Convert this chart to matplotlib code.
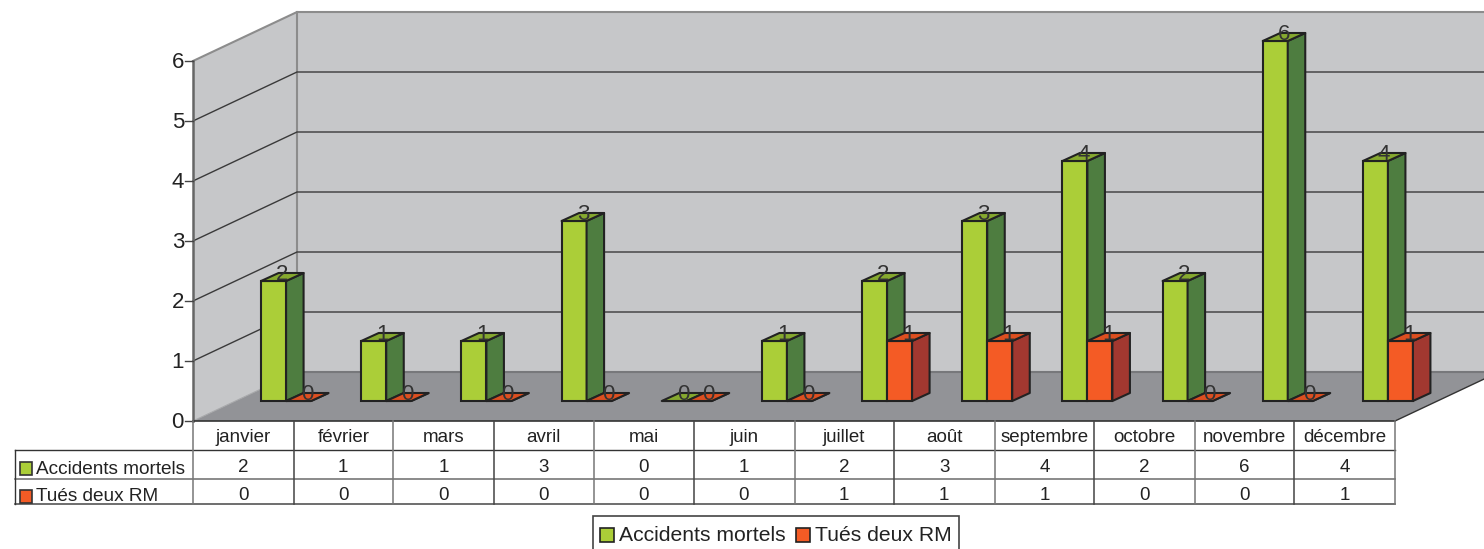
import matplotlib
matplotlib.use('Agg')
import matplotlib.pyplot as plt
from matplotlib.patches import Polygon, Rectangle

plt.rcParams['font.family'] = ['Liberation Sans', 'DejaVu Sans']

months = ['janvier', 'février', 'mars', 'avril', 'mai', 'juin', 'juillet', 'août',
          'septembre', 'octobre', 'novembre', 'décembre']
accidents = [2, 1, 1, 3, 0, 1, 2, 3, 4, 2, 6, 4]
tues = [0, 0, 0, 0, 0, 0, 1, 1, 1, 0, 0, 1]
y_ticks = [0, 1, 2, 3, 4, 5, 6]
series_names = ['Accidents mortels', 'Tués deux RM']
col_edges = [193, 294, 393, 494, 594, 694, 795, 894, 995, 1094, 1195, 1294, 1395]

# everything is in picture pixels, y going down
left, right, base = 193, 1395, 421
unit = 60
dx, dy = 104, -49  # depth of the floor
bar_w = 25
bar_dx, bar_dy = 17.5, -8  # depth of a bar
off_x, off_y = 43, -20  # bars sit in the middle of the floor

green = ('#abce38', '#86a92f', '#4e7d40')
orange = ('#f45b25', '#dd4f20', '#a23830')
edge = '#222222'
text_col = '#222222'

fig = plt.figure(figsize=(14.84, 5.49), dpi=100)
ax = fig.add_axes([0, 0, 1, 1])
ax.set_xlim(0, 1484)
ax.set_ylim(549, 0)
ax.axis('off')


def val_y(v):
    return base - unit * v


def poly(pts, color, ec='none', lw=0, z=1):
    ax.add_patch(Polygon(pts, closed=True, fc=color, ec=ec, lw=lw, zorder=z, joinstyle='round'))


def draw_bar(x, v, cols, z):
    y0 = base + off_y
    y1 = y0 - unit * v
    ax.add_patch(Rectangle((x, y1), bar_w, y0 - y1, fc=cols[0], ec=edge, lw=1.5, zorder=z))
    poly([(x + bar_w, y0), (x + bar_w + bar_dx, y0 + bar_dy), (x + bar_w + bar_dx, y1 + bar_dy), (x + bar_w, y1)],
         cols[2], edge, 1.5, z)
    poly([(x, y1), (x + bar_dx, y1 + bar_dy), (x + bar_w + bar_dx, y1 + bar_dy), (x + bar_w, y1)],
         cols[1], edge, 1.5, z)


# walls and floor
top = val_y(max(y_ticks))
poly([(left, top), (left + dx, top + dy), (left + dx, base + dy), (left, base)], '#c6c7c9')
poly([(left + dx, top + dy), (1484, top + dy), (1484, base + dy), (left + dx, base + dy)], '#c6c7c9')
poly([(left, base), (left + dx, base + dy), (right + dx, base + dy), (right, base)], '#929397')
ax.plot([left, left + dx, 1484], [top, top + dy, top + dy], color='#8c8c8c', lw=1.5, zorder=2)
ax.plot([left + dx, left + dx], [top + dy, base + dy], color='#8c8c8c', lw=1.5, zorder=2)
ax.plot([left + dx, 1484], [base + dy, base + dy], color='#77787b', lw=1.5, zorder=2)
ax.plot([left, left], [top, base], color='#666666', lw=1.8, zorder=3)
ax.plot([right, 1484], [base, base + (1484 - right) * dy / dx], color='#333333', lw=1, zorder=3)

for v in y_ticks:
    y = val_y(v)
    ax.plot([left - 8, left], [y, y], color='#444444', lw=1, zorder=3)
    ax.text(left - 9, y + 2, str(v), ha='right', va='center', fontsize=16, color=text_col)
    if 0 < v < max(y_ticks):
        ax.plot([left, left + dx, 1484], [y, y + dy, y + dy], color='#3a3a3a', lw=1.0, zorder=2)
ax.plot([left, left + dx], [base, base + dy], color='#a8a9ab', lw=0.8, zorder=2)

# bars, one month after the other
step = (right - left) / len(months)
for i in range(len(months)):
    mid = left + step * (i + 0.5) + off_x
    z = 5 + i
    draw_bar(mid - bar_w, accidents[i], green, z)
    draw_bar(mid, tues[i], orange, z + 0.5)
for i in range(len(months)):
    mid = left + step * (i + 0.5) + off_x
    for x, v in ((mid - bar_w, accidents[i]), (mid, tues[i])):
        ax.text(x + bar_w / 2 + bar_dx / 2, val_y(v) + off_y - 6.5, str(v), ha='center', va='center',
                fontsize=16, color='#333333', zorder=30)

# data table
rows = [421, 450, 479, 504]
head_left = 15
ax.plot([left, right], [rows[0], rows[0]], color='#333333', lw=1.2, zorder=20)
ax.plot([head_left, right], [rows[1], rows[1]], color='#333333', lw=1, zorder=20)
ax.plot([head_left, right], [rows[2], rows[2]], color='#777777', lw=1.2, zorder=20)
ax.plot([head_left, right], [rows[3], rows[3]], color='#555555', lw=1.2, zorder=20)
ax.plot([head_left, head_left], [rows[1], rows[3]], color='#333333', lw=1, zorder=20)
for j, x in enumerate(col_edges):
    col = '#777777' if j % 2 == 0 else '#444444'
    ax.plot([x, x], [rows[0], rows[3]], color=col, lw=1.1, zorder=20)
for i, name in enumerate(months):
    cx = left + step * (i + 0.5)
    ax.text(cx, 437, name, ha='center', va='center', fontsize=13.5, color=text_col)
    ax.text(cx, 467, str(accidents[i]), ha='center', va='center', fontsize=13.5, color=text_col)
    ax.text(cx, 495, str(tues[i]), ha='center', va='center', fontsize=13.5, color=text_col)
for name, cols, y, ty in zip(series_names, (green, orange), (468.5, 496), (469, 496.5)):
    ax.add_patch(Rectangle((20, y - 6.5), 12, 13, fc=cols[0], ec='#333333', lw=1.2, zorder=21))
    ax.text(36, ty, name, ha='left', va='center', fontsize=13.7, color=text_col, zorder=21)

# legend
ax.add_patch(Rectangle((593, 516), 366, 40, fc='white', ec='#444444', lw=1.2, zorder=21))
for name, cols, x in zip(series_names, (green, orange), (600, 796)):
    ax.add_patch(Rectangle((x, 528), 14, 14, fc=cols[0], ec='#222222', lw=1.2, zorder=22))
    ax.text(x + 19, 535.5, name, ha='left', va='center', fontsize=15.2, color=text_col, zorder=22)

fig.savefig('out.png', dpi=100)
